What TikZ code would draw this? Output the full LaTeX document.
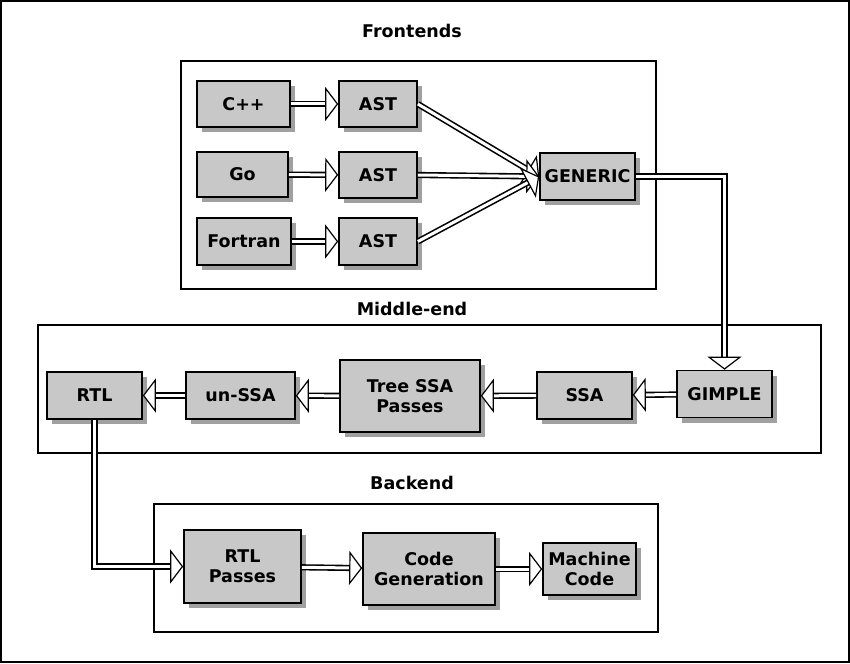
\documentclass[tikz,border=0pt]{standalone}
\usepackage{fontspec}
\setmainfont{DejaVu Sans}
\usetikzlibrary{arrows.meta,shadows}
\definecolor{boxgray}{RGB}{200,200,200}
\definecolor{shadowgray}{RGB}{160,160,160}
\tikzset{
  stage/.style={draw, line width=1.6pt, fill=boxgray, inner sep=0pt, align=center,
    drop shadow={shadow xshift=5pt, shadow yshift=-5pt, fill=shadowgray, opacity=1}},
  flow/.style={double=white, double distance=3pt, line width=1.6pt,
    -{Triangle[open, fill=white, length=13pt, width=34pt, line width=1.2pt]}},
  group/.style={draw, line width=1.4pt},
}
\begin{document}
\begin{tikzpicture}[x=1pt, y=-1pt, font=\fontsize{17.5}{20}\selectfont\bfseries]
    \useasboundingbox (0,0) rectangle (850,663);
    \draw[line width=2pt] (1,1) rectangle (849,662);

    % frontends
    \node (fetitle) at (412,31) {Frontends};
    \draw[group] (181,61) rectangle (656,289);
    \node[stage, minimum width=93pt, minimum height=46pt] (cpp) at (243.5,104) {C++};
    \node[stage, minimum width=91pt, minimum height=45pt] (go) at (242.5,174.5) {Go};
    \node[stage, minimum width=94pt, minimum height=47pt] (fortran) at (244,241.5) {Fortran};
    \node[stage, minimum width=78pt, minimum height=46pt] (ast1) at (378,104) {AST};
    \node[stage, minimum width=78pt, minimum height=46pt] (ast2) at (378,175) {AST};
    \node[stage, minimum width=78pt, minimum height=47pt] (ast3) at (378,241.5) {AST};
    \node[stage, minimum width=95pt, minimum height=47pt] (generic) at (587.5,176.5) {GENERIC};

    % middle-end
    \node (metitle) at (412,309) {Middle-end};
    \draw[group] (38,325) rectangle (821,453);
    \node[stage, minimum width=95pt, minimum height=47pt] (gimple) at (724.5,394) {GIMPLE};
    \node[stage, minimum width=95pt, minimum height=47pt] (ssa) at (584.5,395.5) {SSA};
    \node[stage, minimum width=140pt, minimum height=72pt] (treessa) at (410,396) {Tree SSA\\Passes};
    \node[stage, minimum width=109pt, minimum height=47pt] (unssa) at (240.5,395.5) {un-SSA};
    \node[stage, minimum width=95pt, minimum height=47pt] (rtl) at (94.5,395.5) {RTL};

    % backend
    \node (betitle) at (412,483) {Backend};
    \draw[group] (154,504) rectangle (658,632);
    \node[stage, minimum width=117pt, minimum height=73pt] (rtlpasses) at (242.5,566.5) {RTL\\Passes};
    \node[stage, minimum width=132pt, minimum height=72pt] (codegen) at (429,569) {Code\\Generation};
    \node[stage, minimum width=93pt, minimum height=52pt] (machine) at (589.5,569) {Machine\\Code};

    % flows
    \draw[flow] (cpp) -- (ast1);
    \draw[flow] (go) -- (ast2);
    \draw[flow] (fortran) -- (ast3);
    \draw[flow] (ast1.east) -- (generic.west);
    \draw[flow] (ast2.east) -- (generic.west);
    \draw[flow] (ast3.east) -- (generic.west);
    \draw[flow] (generic.east) -| (gimple.north);
    \draw[flow] (gimple) -- (ssa);
    \draw[flow] (ssa) -- (treessa);
    \draw[flow] (treessa) -- (unssa);
    \draw[flow] (unssa) -- (rtl);
    \draw[flow] (rtl.south) |- (rtlpasses.west);
    \draw[flow] (rtlpasses) -- (codegen);
    \draw[flow] (codegen) -- (machine);
\end{tikzpicture}
\end{document}
